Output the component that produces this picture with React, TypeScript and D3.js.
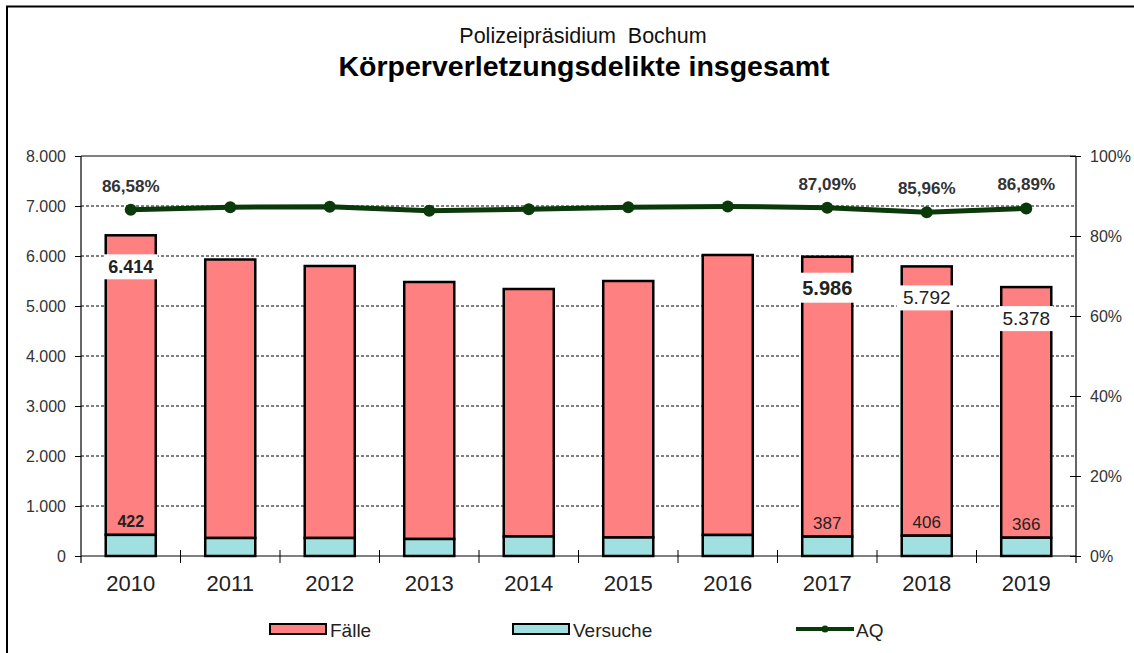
import React, { useEffect, useRef } from 'react';
import * as d3 from 'd3';

const years = ['2010', '2011', '2012', '2013', '2014', '2015', '2016', '2017', '2018', '2019'];
const totals = [6414, 5930, 5800, 5480, 5340, 5500, 6020, 5986, 5792, 5378];
const versuche = [422, 360, 360, 340, 390, 370, 420, 387, 406, 366];
const aq = [86.58, 87.2, 87.3, 86.3, 86.7, 87.2, 87.4, 87.09, 85.96, 86.89];
const showLabel = [true, false, false, false, false, false, false, true, true, true];
const leftTicks = [0, 1000, 2000, 3000, 4000, 5000, 6000, 7000, 8000];
const rightTicks = [0, 20, 40, 60, 80, 100];

const W = 1134;
const H = 653;

const fmtInt = (v: number) => d3.format(',')(v).replace(/,/g, '.');
const fmtPct = (v: number) => v.toFixed(2).replace('.', ',') + '%';

export default function App() {
  const svgRef = useRef<SVGSVGElement>(null);

  useEffect(() => {
    const svg = d3.select(svgRef.current);
    svg.selectAll('*').remove();
    const font = 'Liberation Sans, Arial, sans-serif';
    svg.attr('font-family', font);

    const left = 81, right = 1076, top = 156, bottom = 556;

    // outer frame (open on right/bottom)
    svg.append('path')
      .attr('d', `M7,${H + 5} V6.5 H${W + 5}`)
      .attr('fill', 'none').attr('stroke', '#000').attr('stroke-width', 2);

    svg.append('text').attr('x', 583).attr('y', 43).attr('text-anchor', 'middle')
      .attr('font-size', 21.5).attr('fill', '#111').text('Polizeipräsidium\u00a0 Bochum');
    svg.append('text').attr('x', 584).attr('y', 76).attr('text-anchor', 'middle')
      .attr('font-size', 28.5).attr('font-weight', 'bold').attr('fill', '#000')
      .text('Körperverletzungsdelikte insgesamt');

    const x = d3.scaleBand().domain(years).range([left, right]).paddingInner(0.497).paddingOuter(0.2485);
    const y = d3.scaleLinear().domain([0, 8000]).range([bottom, top]);
    const yR = d3.scaleLinear().domain([0, 100]).range([bottom, top]);

    // gridlines
    svg.append('g').selectAll('line').data(leftTicks.filter(t => t > 0 && t < 8000)).join('line')
      .attr('x1', left).attr('x2', right).attr('y1', d => y(d)).attr('y2', d => y(d))
      .attr('stroke', '#000').attr('stroke-width', 1).attr('stroke-dasharray', '3,2');
    svg.append('line').attr('x1', left).attr('x2', right).attr('y1', top).attr('y2', top)
      .attr('stroke', '#000').attr('stroke-width', 1);

    // bars
    const bw = x.bandwidth();
    const g = svg.append('g');
    years.forEach((yr, i) => {
      const x0 = x(yr)!;
      g.append('rect').attr('x', x0).attr('width', bw)
        .attr('y', y(totals[i])).attr('height', y(versuche[i]) - y(totals[i]))
        .attr('fill', '#FF8080').attr('stroke', '#000').attr('stroke-width', 2.5);
      g.append('rect').attr('x', x0).attr('width', bw)
        .attr('y', y(versuche[i])).attr('height', y(0) - y(versuche[i]))
        .attr('fill', '#A0E0E0').attr('stroke', '#000').attr('stroke-width', 2.5);
    });

    // axes
    const axL = svg.append('g').attr('transform', `translate(${left},0)`)
      .call(d3.axisLeft(y).tickValues(leftTicks).tickSize(6).tickFormat(d => fmtInt(+d)));
    axL.select('.domain').attr('stroke', '#000').attr('stroke-width', 1.2).attr('d', `M0,${top}V${bottom + 7}`);
    axL.selectAll('text').attr('font-size', 16).attr('fill', '#333').attr('font-family', font).attr('x', -15);

    const axR = svg.append('g').attr('transform', `translate(${right},0)`)
      .call(d3.axisRight(yR).tickValues(rightTicks).tickSize(5).tickFormat(d => `${d}%`));
    axR.select('.domain').attr('stroke', '#000').attr('stroke-width', 1.2).attr('d', `M0,${top}V${bottom + 7}`);
    axR.selectAll('.tick line').attr('x1', -6).attr('x2', 5);
    axR.selectAll('text').attr('font-size', 16).attr('fill', '#333').attr('font-family', font).attr('x', 14);

    svg.append('line').attr('x1', left).attr('x2', right).attr('y1', bottom).attr('y2', bottom)
      .attr('stroke', '#000').attr('stroke-width', 1.2);
    const step = (right - left) / years.length;
    svg.append('g').selectAll('line').data(d3.range(1, years.length)).join('line')
      .attr('x1', d => left + d * step).attr('x2', d => left + d * step)
      .attr('y1', bottom - 6).attr('y2', bottom + 7).attr('stroke', '#000').attr('stroke-width', 1);
    svg.append('g').selectAll('text').data(years).join('text')
      .attr('x', d => x(d)! + bw / 2).attr('y', 591).attr('text-anchor', 'middle')
      .attr('font-size', 22).attr('fill', '#222').text(d => d);

    // value labels
    years.forEach((yr, i) => {
      if (!showLabel[i]) return;
      const cx = x(yr)! + bw / 2;
      const big = i === 7;
      const cy = y(totals[i]) + 31;
      const bwid = i === 8 ? 60 : 54;
      const fs = i === 0 ? 18 : big ? 20 : 19;
      g.append('rect').attr('x', cx - bwid / 2).attr('y', cy - (big ? 15 : 12)).attr('width', bwid)
        .attr('height', big ? 30 : 25).attr('fill', '#fff');
      g.append('text').attr('x', cx).attr('y', cy + 7).attr('text-anchor', 'middle')
        .attr('font-size', fs).attr('font-weight', i === 0 || big ? 'bold' : 'normal')
        .attr('fill', '#222').text(fmtInt(totals[i]));
      g.append('text').attr('x', cx).attr('y', y(versuche[i]) - 8).attr('text-anchor', 'middle')
        .attr('font-size', i === 0 ? 16 : 17).attr('font-weight', i === 0 ? 'bold' : 'normal')
        .attr('fill', '#222').text(versuche[i]);
    });

    // AQ line
    const line = d3.line<number>().x((_, i) => x(years[i])! + bw / 2).y(d => yR(d));
    svg.append('path').datum(aq).attr('d', line).attr('fill', 'none')
      .attr('stroke', '#0a3a0a').attr('stroke-width', 5);
    svg.append('g').selectAll('circle').data(aq).join('circle')
      .attr('cx', (_, i) => x(years[i])! + bw / 2).attr('cy', d => yR(d)).attr('r', 6)
      .attr('fill', '#0a3a0a');
    svg.append('g').selectAll('text').data(aq.map((v, i) => ({ v, i })).filter(d => showLabel[d.i])).join('text')
      .attr('x', d => x(years[d.i])! + bw / 2).attr('y', d => yR(d.v) - 18).attr('text-anchor', 'middle')
      .attr('font-size', 17).attr('font-weight', 'bold').attr('fill', '#333').text(d => fmtPct(d.v));

    // legend
    const lg = svg.append('g');
    const ly = 624;
    lg.append('rect').attr('x', 270).attr('y', ly).attr('width', 56).attr('height', 10)
      .attr('fill', '#FF8080').attr('stroke', '#000').attr('stroke-width', 2);
    lg.append('text').attr('x', 330).attr('y', ly + 13).attr('font-size', 19).attr('fill', '#222').text('Fälle');
    lg.append('rect').attr('x', 513).attr('y', ly).attr('width', 56).attr('height', 10)
      .attr('fill', '#A0E0E0').attr('stroke', '#000').attr('stroke-width', 2);
    lg.append('text').attr('x', 573).attr('y', ly + 13).attr('font-size', 19).attr('fill', '#222').text('Versuche');
    lg.append('line').attr('x1', 796).attr('x2', 854).attr('y1', ly + 5).attr('y2', ly + 5)
      .attr('stroke', '#0a3a0a').attr('stroke-width', 4);
    lg.append('circle').attr('cx', 825).attr('cy', ly + 5).attr('r', 3.5).attr('fill', '#0a3a0a');
    lg.append('text').attr('x', 856).attr('y', ly + 13).attr('font-size', 19).attr('fill', '#222').text('AQ');
  }, []);

  return (
    <svg ref={svgRef} width={W} height={H}
      style={{ position: 'absolute', left: 0, top: 0, background: '#fff' }} />
  );
}
